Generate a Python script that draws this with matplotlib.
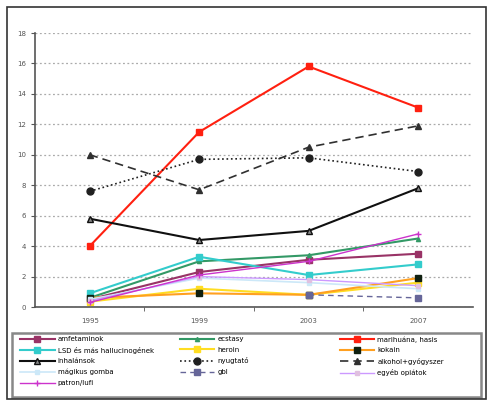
import matplotlib.pyplot as plt
import matplotlib.patches as mpatches
import numpy as np

years = ['1995', '1999', '2003', '2007']

amfetaminok = [0.5, 2.3, 3.1, 3.5]
ecstasy = [0.6, 3.0, 3.4, 4.5]
marihuana = [4.0, 11.5, 15.8, 13.1]
lsd = [0.9, 3.3, 2.1, 2.8]
heroin = [0.35, 1.2, 0.8, 1.6]
kokain = [0.6, 0.9, 0.8, 1.9]
inhalansok = [5.8, 4.4, 5.0, 7.8]
nyugtato = [7.6, 9.7, 9.8, 8.9]
alkohol = [10.0, 7.7, 10.5, 11.9]
gomba = [0.5, 1.9, 1.6, 1.2]
gbl = [np.nan, np.nan, 0.8, 0.6]
opiatok = [0.4, 2.0, 1.8, 1.4]
patron = [0.3, 2.1, 3.0, 4.8]

fig = plt.figure(figsize=(4.91, 4.01), dpi=100)
ax = fig.add_axes([0.0713, 0.2344, 0.8917, 0.6833])
x = np.arange(len(years))

lines = {}
lines['amfetaminok'] = ax.plot(x, amfetaminok, color='#993366', lw=1.5, marker='s', ms=4)[0]
lines['ecstasy'] = ax.plot(x, ecstasy, color='#339966', lw=1.5, marker='^', ms=3)[0]
lines['marihuána, hasis'] = ax.plot(x, marihuana, color='#ff2010', lw=1.5, marker='s', ms=5)[0]
lines['LSD és más hallucinogének'] = ax.plot(x, lsd, color='#33cccc', lw=1.5, marker='s', ms=5)[0]
lines['heroin'] = ax.plot(x, heroin, color='#ffdd22', lw=1.5, marker='s', ms=4)[0]
lines['kokain'] = ax.plot(x, kokain, color='#ffa020', lw=1.5, marker='s', ms=4,
                          mfc='#102010', mec='#102010')[0]
lines['inhalánsok'] = ax.plot(x, inhalansok, color='#101010', lw=1.5, marker='^', ms=4,
                              mfc='#888888')[0]
lines['nyugtató'] = ax.plot(x, nyugtato, color='#202020', lw=1.2, ls=':', marker='o', ms=5)[0]
lines['alkohol+gyógyszer'] = ax.plot(x, alkohol, color='#303030', lw=1.2, ls=(0, (5, 3)),
                                     marker='^', ms=5)[0]
lines['mágikus gomba'] = ax.plot(x, gomba, color='#cce8f8', lw=1.2, marker='s', ms=3)[0]
lines['gbl'] = ax.plot(x, gbl, color='#666699', lw=1.0, ls=(0, (4, 3)), marker='s', ms=4)[0]
lines['egyéb opiátok'] = ax.plot(x, opiatok, color='#cc99ff', lw=1.0, marker='s', ms=3,
                                 mfc='#e0c0e0', mec='#e0c0e0')[0]
lines['patron/lufi'] = ax.plot(x, patron, color='#cc33cc', lw=1.0, marker='+', ms=5)[0]

ax.set_xlim(-0.5, 3.5)
ax.set_ylim(0, 18)
ax.set_yticks(np.arange(0, 19, 2))
ax.set_xticks(x)
ax.set_xticklabels(years)
ax.set_xticks([0.5, 1.5, 2.5], minor=True)
ax.tick_params(axis='x', which='major', length=0, labelsize=5, colors='#555555', pad=8)
ax.tick_params(axis='x', which='minor', length=3, color='#555555')
ax.tick_params(axis='y', labelsize=5, colors='#555555', length=3)
ax.grid(axis='y', color='#aaaaaa', ls=(0, (1.5, 2)), lw=0.9)
for s in ['top', 'right']:
    ax.spines[s].set_visible(False)
ax.spines['left'].set_color('#555555')
ax.spines['left'].set_linewidth(1.2)
ax.spines['bottom'].set_color('#555555')
ax.spines['bottom'].set_linewidth(1.2)

# three columns as separate legends so they sit where the original has them
cols = [['amfetaminok', 'LSD és más hallucinogének', 'inhalánsok', 'mágikus gomba', 'patron/lufi'],
        ['ecstasy', 'heroin', 'nyugtató', 'gbl'],
        ['marihuána, hasis', 'kokain', 'alkohol+gyógyszer', 'egyéb opiátok']]
col_x = [0.041, 0.366, 0.692]
for names, cx in zip(cols, col_x):
    fig.legend([lines[k] for k in names], names, fontsize=5, loc='upper left',
               bbox_to_anchor=(cx, 0.162), frameon=False, handlelength=5,
               labelspacing=0.67, borderpad=0, borderaxespad=0, handletextpad=0.4)

fig.patches.append(mpatches.Rectangle((12 / 491, 1 - 397 / 401), 469 / 491, 64 / 401,
                                      transform=fig.transFigure, fill=False,
                                      ec='#888888', lw=1.8))
fig.patches.append(mpatches.Rectangle((7 / 491, 1 - 399 / 401), 479 / 491, 392 / 401,
                                      transform=fig.transFigure, fill=False,
                                      ec='#333333', lw=1.2))

fig.savefig('out.png', dpi=100)
